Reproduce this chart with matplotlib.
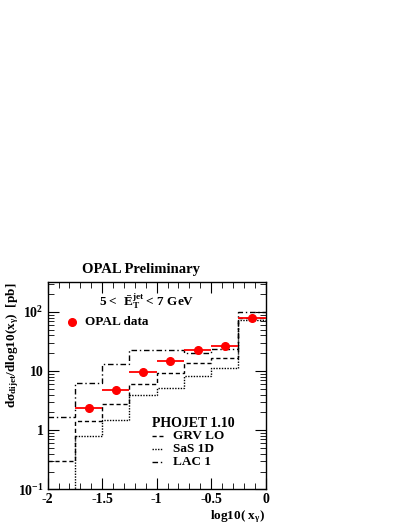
import numpy as np
import matplotlib.pyplot as plt
from matplotlib.ticker import FixedLocator, NullFormatter

plt.rcParams['font.family'] = ['Liberation Serif', 'DejaVu Serif']
plt.rcParams['font.weight'] = 'bold'
plt.rcParams['mathtext.fontset'] = 'custom'
plt.rcParams['mathtext.rm'] = 'Liberation Serif:bold'
plt.rcParams['mathtext.it'] = 'Liberation Serif:bold'
plt.rcParams['mathtext.bf'] = 'Liberation Serif:bold'

# bin edges in log10(x_gamma)
edges = [-2.0, -1.75, -1.5, -1.25, -1.0, -0.75, -0.5, -0.25, 0.0]

# OPAL data (bins from -1.75 to 0)
data_x = [-1.625, -1.375, -1.125, -0.875, -0.625, -0.375, -0.125]
data_y = [2.36, 4.8, 9.5, 14.8, 22.7, 26.5, 80.0]
data_err = [0.2, 0.35, 0.6, 0.9, 1.4, 1.6, 5.0]

# PHOJET 1.10 predictions
grv_lo = [0.30, 1.44, 2.82, 6.1, 9.2, 13.5, 16.6, 78.0]
sas_1d = [0.001, 0.80, 1.5, 3.9, 5.1, 8.1, 11.1, 74.0]
lac_1 = [1.68, 6.2, 13.1, 22.4, 22.4, 20.2, 23.9, 98.0]

fig = plt.figure(figsize=(4.09, 5.29), dpi=100)
ax = fig.add_axes([0.1166, 0.075, 0.533, 0.3914])

ax.stairs(grv_lo, edges, baseline=None, color='black', lw=1.0, linestyle=(0, (3, 2)))
ax.stairs(sas_1d, edges, baseline=None, color='black', lw=1.0, linestyle=(0, (1, 1)))
ax.stairs(lac_1, edges, baseline=None, color='black', lw=1.0, linestyle=(0, (4, 2, 1, 2)))

ax.errorbar(data_x, data_y, xerr=0.125, yerr=data_err, fmt='o', color='red',
            markersize=5.5, elinewidth=1.3, capsize=0, zorder=5)

ax.set_yscale('log')
ax.set_ylim(0.1, 316)
ax.set_xlim(-2, 0)

ax.xaxis.set_major_locator(FixedLocator([-2, -1.5, -1, -0.5, 0]))
ax.xaxis.set_minor_locator(FixedLocator(np.arange(-2, 0.001, 0.1)))
ax.set_xticklabels(['-2', '-1.5', '-1', '-0.5', '0'])
ax.set_yticks([0.1, 1, 10, 100])
ax.set_yticklabels([r'$10^{-1}$', '1', '10', r'$10^{2}$'])
ax.yaxis.set_minor_formatter(NullFormatter())

ax.tick_params(which='both', direction='in', top=True, right=True, labelsize=10)
ax.tick_params(which='major', length=8)
ax.tick_params(which='minor', length=4)
ax.tick_params(axis='x', pad=3)
ax.tick_params(axis='y', pad=3)
for s in ax.spines.values():
    s.set_linewidth(1.0)

fig.text(0.3456, 0.491, 'OPAL Preliminary', ha='center', va='center', fontsize=10.5)
ax.text(0.455, 0.91, r'5 <  $\bar{\rm E}_{\rm T}^{\rm jet}$ < 7 GeV', transform=ax.transAxes,
        ha='center', va='center', fontsize=9.5)
ax.plot([0.11], [0.81], 'o', color='red', markersize=5.5, transform=ax.transAxes)
ax.text(0.17, 0.81, 'OPAL data', transform=ax.transAxes, ha='left', va='center', fontsize=9.5)

ax.text(0.48, 0.318, 'PHOJET 1.10', transform=ax.transAxes, ha='left', va='center', fontsize=10)
leg_items = [('GRV LO', (0, (3, 2)), 0.258), ('SaS 1D', (0, (1, 1)), 0.193),
             ('LAC 1', (0, (4, 2, 1, 2)), 0.13)]
for name, ls, yy in leg_items:
    ax.plot([0.48, 0.53], [yy, yy], color='black', lw=1.0, linestyle=ls, transform=ax.transAxes)
    ax.text(0.573, yy, name, transform=ax.transAxes, ha='left', va='center', fontsize=9.5)

fig.text(0.03, 0.466, r'd$\sigma_{\rm dijet}$/dlog10(x$_{\gamma}$)  [pb]', rotation=90,
         ha='center', va='top', fontsize=9.5)
fig.text(0.649, 0.023, r'log10( x$_{\gamma}$)', ha='right', va='center', fontsize=9.5)

fig.savefig('out.png', dpi=100)
